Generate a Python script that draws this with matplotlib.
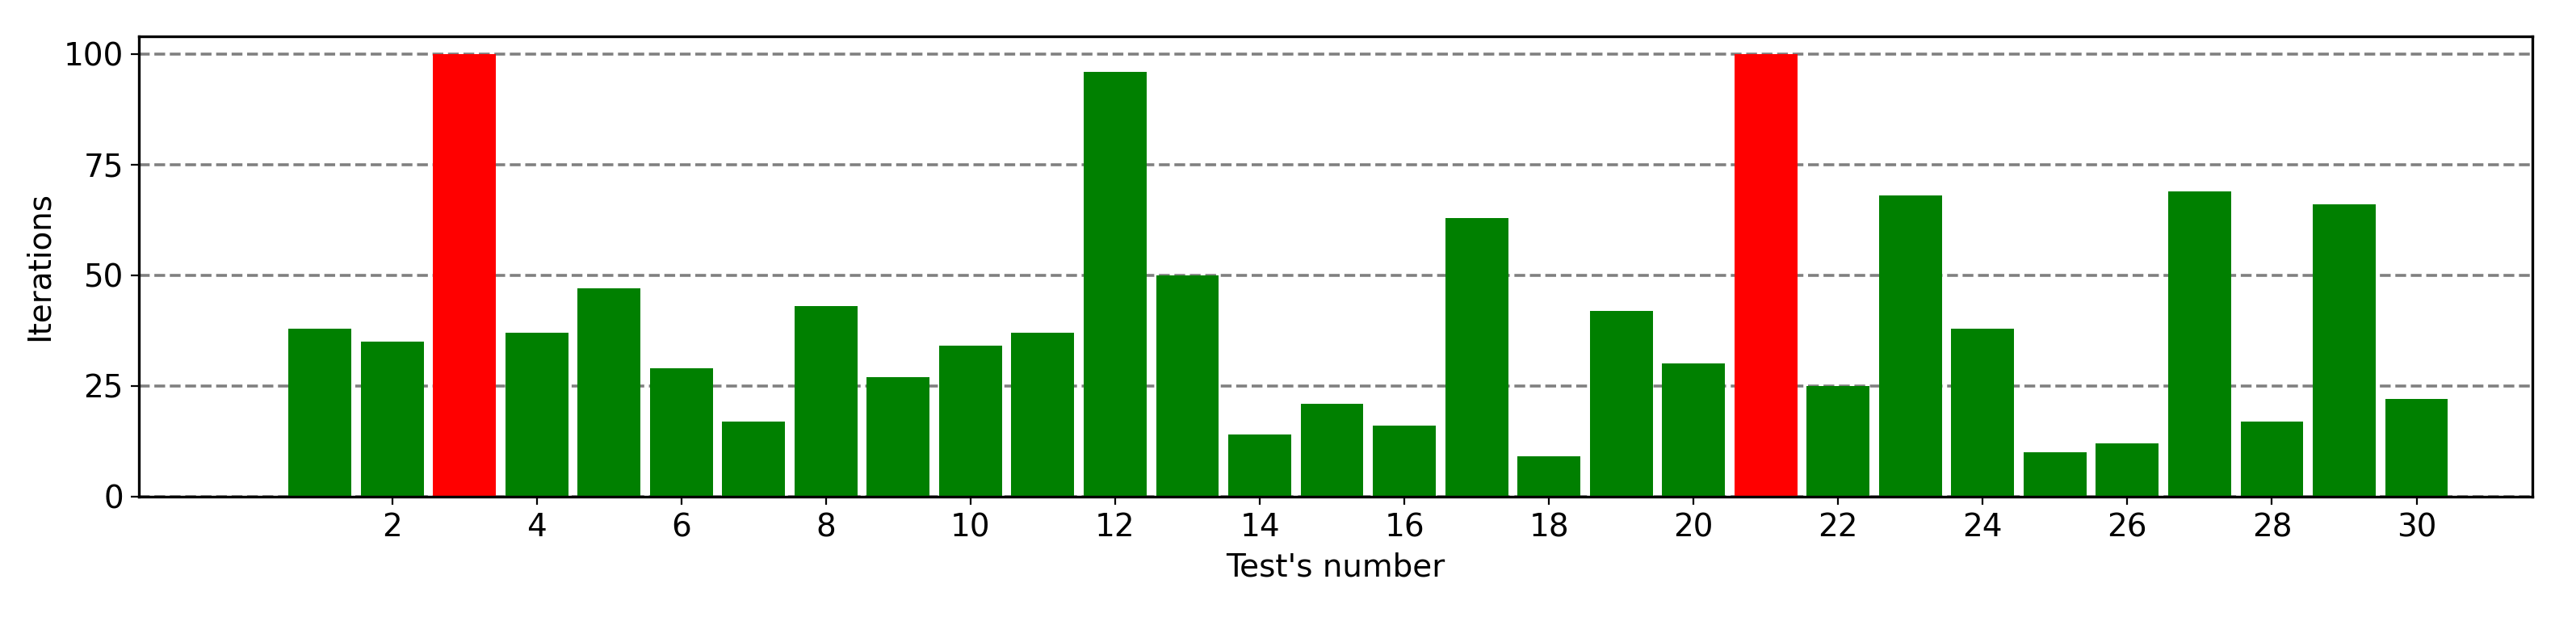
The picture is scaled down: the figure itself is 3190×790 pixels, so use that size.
import matplotlib.pyplot as plt
import numpy as np

tests = list(range(1, 31))
iterations = [38, 35, 100, 37, 47, 29, 17, 43, 27, 34, 37, 96, 50, 14, 21,
              16, 63, 9, 42, 30, 100, 25, 68, 38, 10, 12, 69, 17, 66, 22]
max_iter = 100

colors = ["red" if v >= max_iter else "green" for v in iterations]

fig = plt.figure(figsize=(15.95, 3.95), dpi=200)
ax = fig.add_axes([0.054, 0.222, 0.929, 0.721])
ax.set_axisbelow(True)
ax.yaxis.grid(True, linestyle="--", color="gray", linewidth=1.3)
ax.bar(tests, iterations, width=0.87, color=colors)
ax.set_xlim(-1.5, 31.6)
ax.set_ylim(0, 104)
ax.set_xticks(range(2, 31, 2))
ax.set_yticks([0, 25, 50, 75, 100])
ax.tick_params(labelsize=14)
ax.set_xlabel("Test's number", fontsize=14)
ax.set_ylabel("Iterations", fontsize=14)
for s in ax.spines.values():
    s.set_linewidth(1.2)
fig.savefig("out.png")
